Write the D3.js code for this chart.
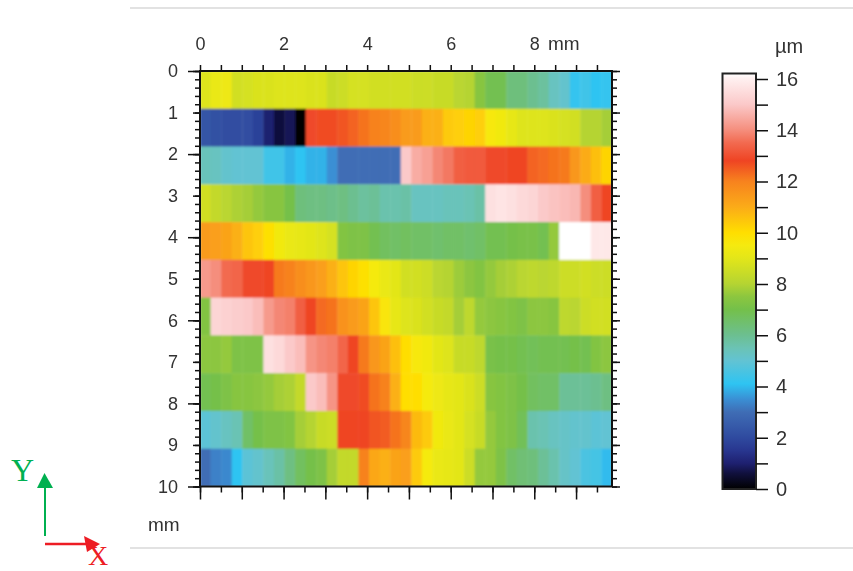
<!DOCTYPE html>
<html><head><meta charset="utf-8">
<script src="https://cdn.jsdelivr.net/npm/d3@7"></script>
<style>html,body{margin:0;padding:0;background:#fff}svg{display:block}text{font-family:"Liberation Sans",Arial,sans-serif;fill:#333}</style>
</head><body><svg id="c" width="853" height="571"></svg>
<script>
const row0=[8.9,9.2,9.3,8.6,8.7,8.8,8.8,8.9,8.9,8.9,8.8,8.8,8.4,8.5,8.7,8.7,8.6,8.6,8.6,8.6,8.5,8.5,8.4,8.4,8.1,8.0,7.4,6.9,6.9,6.3,6.3,6.0,5.8,5.3,5.1,4.2,4.4,4.1,4.2];
const row1=[2.3,2.2,2.1,2.1,2.1,1.8,1.0,0.6,0.8,0.05,12.9,12.7,12.7,12.6,12.4,12.2,12.0,11.9,11.7,11.4,11.4,10.9,10.9,10.4,10.3,10.2,10.3,9.6,9.4,9.1,8.9,8.9,8.9,8.8,8.7,8.6,8.0,8.0,7.8];
const row2=[5.4,5.3,5.1,5.0,5.0,5.0,4.4,4.4,3.9,4.1,3.9,3.9,3.5,3.0,3.0,3.0,3.0,3.0,3.0,15.0,14.5,14.3,13.9,13.7,13.3,13.2,13.2,12.9,12.9,12.8,12.8,12.4,12.3,12.2,12.1,11.5,11.0,10.6,10.2];
const row3=[8.6,8.3,8.1,7.9,7.8,7.6,7.4,7.4,7.0,6.3,6.2,6.2,6.1,6.2,6.0,5.8,5.9,5.6,5.6,5.7,5.3,5.3,5.3,5.4,5.4,5.5,5.7,15.6,15.7,15.6,15.4,15.3,15.0,14.9,14.8,14.7,14.0,13.3,12.8];
const row4=[11.4,11.3,11.2,10.9,10.5,10.3,9.9,9.4,9.2,9.1,9.0,8.9,8.7,7.3,7.2,7.2,6.9,6.7,6.6,6.7,6.6,6.6,6.5,6.6,6.6,6.5,6.6,6.9,6.9,7.0,7.1,7.1,6.9,7.6,16.2,16.2,16.2,15.8,15.8];
const row5=[14.2,14.0,13.5,13.4,12.9,12.9,12.8,12.1,12.0,11.7,11.5,11.3,10.9,10.5,10.2,9.9,9.5,9.2,9.0,8.6,8.6,8.5,8.1,8.0,7.7,7.5,7.3,7.6,7.8,7.9,8.1,8.2,8.1,8.2,8.5,8.5,8.6,8.5,8.5];
const row6=[7.3,15.3,15.2,15.1,15.0,14.8,14.2,13.9,13.8,13.3,12.8,12.3,12.2,11.6,11.4,11.2,10.5,9.7,9.1,8.9,8.8,8.6,8.4,8.3,7.8,8.2,7.6,7.5,7.4,7.3,7.2,7.5,7.5,7.4,8.2,8.1,8.5,8.6,8.6];
const row7=[7.5,7.5,7.6,7.2,7.2,7.2,15.6,15.4,15.0,14.8,14.1,13.9,13.8,13.4,12.8,12.1,11.5,11.2,10.6,10.0,9.6,9.4,9.0,8.9,8.4,8.4,8.2,7.1,7.0,7.0,6.9,6.8,6.9,6.9,6.9,7.0,6.9,7.3,7.5];
const row8=[6.9,7.0,7.2,7.4,7.4,7.5,7.6,7.8,7.9,8.3,15.0,14.8,14.1,12.9,12.9,12.7,12.2,12.0,10.9,10.0,10.0,9.5,9.3,9.1,9.0,8.8,8.5,7.4,7.3,7.2,7.0,6.7,6.6,6.6,5.9,5.9,5.9,6.0,6.2];
const row9=[4.9,5.1,5.3,5.5,6.6,7.0,7.2,7.2,7.3,7.8,8.0,8.4,8.5,12.8,12.8,12.8,12.6,12.5,12.2,11.9,10.7,10.4,9.4,9.2,9.0,8.7,8.4,7.6,7.3,7.2,6.8,5.6,5.5,5.3,5.2,5.1,5.1,4.9,5.0];
const row10=[3.0,3.3,3.4,4.1,4.9,5.1,5.4,5.7,6.2,6.7,7.0,7.2,7.8,8.3,8.3,12.0,11.1,10.9,11.2,11.3,10.4,9.5,9.2,9.1,9.0,8.5,7.6,7.6,7.2,6.6,6.4,6.3,5.9,5.6,5.2,5.0,4.6,4.5,4.0];
const rows=[row0,row1,row2,row3,row4,row5,row6,row7,row8,row9,row10];
const colorValues=[0,0.6,1,1.5,2,3,3.5,4.1,5,5.5,6,7,7.5,8,9,9.5,10,11,12,12.8,13.5,14,15,16,16.2];
const colorStops=["#000000","#10103c","#1e2070","#28368f","#2f4a9f","#3f6db5","#3a8fd4","#2ec4f2","#62c3d3","#6bc3b4","#6cbf90","#74c04a","#8cc63f","#b5d432","#e3e619","#f5ea0f","#ffde00","#fbab18","#f7821e","#ef4423","#f26a50","#f58e7d","#fbc9c9","#fff0f0","#ffffff"];
const topTicks=[0,2,4,6,8];
const yTicks=[0,1,2,3,4,5,6,7,8,9,10];
const barTicks=[0,2,4,6,8,10,12,14,16];
const barMinor=[1,3,5,7,9,11,13,15];

const svg=d3.select("#c");
const color=d3.scaleLinear(colorValues,colorStops).clamp(true);
const xb=d3.scaleBand(d3.range(row0.length),[200,612]);
const yb=d3.scaleBand(d3.range(rows.length),[71,486.5]);
const x=d3.scaleLinear([0,9.86],[200,612]);
const y=d3.scaleLinear([0,10],[71,486.5]);
const yc=d3.scaleLinear([0,16],[489,79]);
const defs=svg.append("defs");
defs.append("filter").attr("id","soft").attr("x","-5%").attr("y","-5%").attr("width","110%").attr("height","110%")
  .append("feGaussianBlur").attr("stdDeviation",1.1);
defs.append("filter").attr("id","txt").attr("x","-20%").attr("y","-20%").attr("width","140%").attr("height","140%")
  .append("feGaussianBlur").attr("stdDeviation",0.4);
const grad=defs.append("linearGradient").attr("id","bar").attr("x1",0).attr("x2",0).attr("y1",1).attr("y2",0);
grad.selectAll("stop").data(colorValues).join("stop")
  .attr("offset",d=>d/16.2).attr("stop-color",d=>color(d));

// page rules
svg.selectAll("line.rule").data([8,548]).join("line").attr("class","rule")
  .attr("x1",130).attr("x2",853).attr("y1",d=>d).attr("y2",d=>d).attr("stroke","#e2e2e2").attr("stroke-width",2);

// heat map, clipped to the frame
defs.append("clipPath").attr("id","plot").append("rect")
  .attr("x",x(0)).attr("y",y(0)).attr("width",x(9.86)-x(0)).attr("height",y(10)-y(0));
svg.append("g").attr("clip-path","url(#plot)").append("g").attr("filter","url(#soft)").selectAll("g").data(rows).join("g")
  .attr("transform",(d,i)=>`translate(0,${yb(i)})`)
  .selectAll("rect").data(d=>d).join("rect")
  .attr("x",(d,i)=>xb(i)).attr("width",xb.bandwidth()+0.4).attr("height",yb.bandwidth()+0.4)
  .attr("fill",d=>color(d));

function axisLayer(axis,dx,dy,size){
  const g=svg.append("g").attr("transform",`translate(${dx},${dy})`).call(axis);
  g.select(".domain").remove();
  g.selectAll("line").attr("stroke","#111").attr("stroke-width",1.5);
  g.selectAll("text").attr("fill","#333").style("font-size",(size||18)+"px").attr("filter","url(#txt)");
  g.attr("font-family",null).attr("font-size",null);
  return g;
}
const halves=d3.range(0,9.86,0.5), wholes=d3.range(0,10,1), fifths=d3.range(0,10.01,0.2);
// top
axisLayer(d3.axisTop(x).tickValues(halves).tickSize(6).tickFormat(""),0,71);
axisLayer(d3.axisTop(x).tickValues(topTicks).tickSize(0).tickPadding(21),0,71);
// bottom
axisLayer(d3.axisBottom(x).tickValues(halves).tickSize(6).tickFormat(""),0,486.5);
axisLayer(d3.axisBottom(x).tickValues(wholes).tickSize(13).tickFormat(""),0,486.5);
// left
axisLayer(d3.axisLeft(y).tickValues(fifths).tickSize(5).tickFormat(""),200,0);
axisLayer(d3.axisLeft(y).tickValues(yTicks).tickSize(7).tickFormat(""),200,0);
axisLayer(d3.axisLeft(y).tickValues(yTicks.filter(d=>d%2===0)).tickSize(12).tickFormat(""),200,0);
axisLayer(d3.axisLeft(y).tickValues(yTicks).tickSize(0).tickPadding(22),200,0);
// right
axisLayer(d3.axisRight(y).tickValues(fifths).tickSize(5).tickFormat(""),612,0);
axisLayer(d3.axisRight(y).tickValues(yTicks).tickSize(8).tickFormat(""),612,0);
// frame
svg.append("rect").attr("x",x(0)).attr("y",y(0)).attr("width",x(9.86)-x(0)).attr("height",y(10)-y(0))
  .attr("fill","none").attr("stroke","#111").attr("stroke-width",2);

// unit labels
const label=(t,px,py,size,anchor)=>svg.append("text").text(t).attr("x",px).attr("y",py)
  .attr("text-anchor",anchor||"start").style("font-size",size+"px").attr("filter","url(#txt)");
label("mm",548,50,19);
label("mm",148,531,19);
label("µm",775,53,20);

// colour bar
svg.append("rect").attr("x",722.5).attr("y",73.5).attr("width",33.5).attr("height",415.5)
  .attr("fill","url(#bar)").attr("stroke","#222").attr("stroke-width",2);
axisLayer(d3.axisRight(yc).tickValues(barMinor).tickSize(12).tickFormat(""),756,0);
axisLayer(d3.axisRight(yc).tickValues(barTicks).tickSize(12).tickPadding(8),756,0,20);

// orientation marker
const green="#00b050", red="#ed1c24";
svg.append("line").attr("x1",45).attr("x2",45).attr("y1",536).attr("y2",485).attr("stroke",green).attr("stroke-width",2);
svg.append("path").attr("d","M44.5,473L53,488L37,488Z").attr("fill",green);
svg.append("line").attr("x1",45).attr("x2",88).attr("y1",544).attr("y2",544).attr("stroke",red).attr("stroke-width",2.5);
svg.append("path").attr("d","M100,544L84,536L87,552Z").attr("fill",red);
svg.append("text").text("Y").attr("x",11).attr("y",481).style("font-family","'Liberation Serif',serif").style("font-size","32px").style("fill",green);
svg.append("text").text("X").attr("x",88).attr("y",564.5).style("font-family","'Liberation Serif',serif").style("font-size","28px").style("fill",red);
</script></body></html>
